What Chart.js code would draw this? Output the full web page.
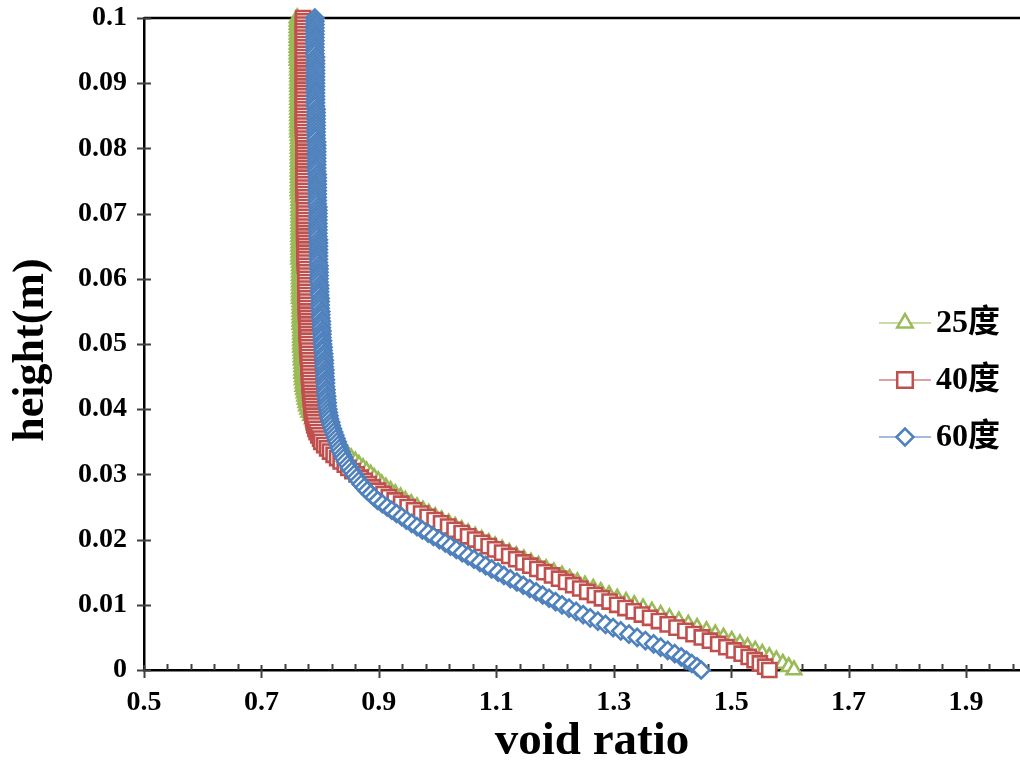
<!DOCTYPE html>
<html>
<head>
<meta charset="utf-8">
<script src="https://cdn.jsdelivr.net/npm/chart.js@4.4.1/dist/chart.umd.min.js"></script>
<style>
    html, body { margin: 0; padding: 0; background: #fff; overflow: hidden; }
    #wrap { width: 1020px; height: 763px; }
    canvas { display: block; }
</style>
</head>
<body>
<div id="wrap"><canvas id="voidChart" width="1020" height="763"></canvas></div>
<script>
// height (m), shared by the three series
const heights = [
    0, 0.0005, 0.001, 0.0015, 0.002, 0.0025, 0.003, 0.0035, 0.004, 0.0045,
    0.005, 0.0055, 0.006, 0.0065, 0.007, 0.0075, 0.008, 0.0085, 0.009, 0.0095,
    0.01, 0.0105, 0.011, 0.0115, 0.012, 0.0125, 0.013, 0.0135, 0.014, 0.0145,
    0.015, 0.0155, 0.016, 0.0165, 0.017, 0.0175, 0.018, 0.0185, 0.019, 0.0195,
    0.02, 0.0205, 0.021, 0.0215, 0.022, 0.0225, 0.023, 0.0235, 0.024, 0.0245,
    0.025, 0.0255, 0.026, 0.0265, 0.027, 0.0275, 0.028, 0.0285, 0.029, 0.0295,
    0.03, 0.0305, 0.031, 0.0315, 0.032, 0.0325, 0.033, 0.0335, 0.034, 0.0345,
    0.035, 0.0355, 0.036, 0.0365, 0.037, 0.0375, 0.038, 0.0385, 0.039, 0.0395,
    0.04, 0.0405, 0.041, 0.0415, 0.042, 0.0425, 0.043, 0.0435, 0.044, 0.0445,
    0.045, 0.0455, 0.046, 0.0465, 0.047, 0.0475, 0.048, 0.0485, 0.049, 0.0495,
    0.05, 0.0505, 0.051, 0.0515, 0.052, 0.0525, 0.053, 0.0535, 0.054, 0.0545,
    0.055, 0.0555, 0.056, 0.0565, 0.057, 0.0575, 0.058, 0.0585, 0.059, 0.0595,
    0.06, 0.0605, 0.061, 0.0615, 0.062, 0.0625, 0.063, 0.0635, 0.064, 0.0645,
    0.065, 0.0655, 0.066, 0.0665, 0.067, 0.0675, 0.068, 0.0685, 0.069, 0.0695,
    0.07, 0.0705, 0.071, 0.0715, 0.072, 0.0725, 0.073, 0.0735, 0.074, 0.0745,
    0.075, 0.0755, 0.076, 0.0765, 0.077, 0.0775, 0.078, 0.0785, 0.079, 0.0795,
    0.08, 0.0805, 0.081, 0.0815, 0.082, 0.0825, 0.083, 0.0835, 0.084, 0.0845,
    0.085, 0.0855, 0.086, 0.0865, 0.087, 0.0875, 0.088, 0.0885, 0.089, 0.0895,
    0.09, 0.0905, 0.091, 0.0915, 0.092, 0.0925, 0.093, 0.0935, 0.094, 0.0945,
    0.095, 0.0955, 0.096, 0.0965, 0.097, 0.0975, 0.098, 0.0985, 0.099, 0.0995,
    0.1
];

// void ratio, 25度
const void25 = [
    1.607, 1.598, 1.588, 1.577, 1.565, 1.553, 1.541, 1.528, 1.515, 1.501,
    1.487, 1.473, 1.458, 1.442, 1.427, 1.411, 1.395, 1.380, 1.365, 1.350,
    1.335, 1.321, 1.306, 1.292, 1.278, 1.265, 1.251, 1.238, 1.225, 1.212,
    1.198, 1.185, 1.172, 1.159, 1.147, 1.134, 1.122, 1.110, 1.098, 1.087,
    1.075, 1.064, 1.052, 1.041, 1.030, 1.019, 1.007, 0.996, 0.985, 0.975,
    0.965, 0.955, 0.945, 0.937, 0.928, 0.920, 0.912, 0.905, 0.899, 0.892,
    0.886, 0.879, 0.873, 0.866, 0.860, 0.853, 0.847, 0.840, 0.834, 0.827,
    0.821, 0.814, 0.808, 0.803, 0.798, 0.794, 0.790, 0.787, 0.784, 0.781,
    0.779, 0.777, 0.776, 0.775, 0.774, 0.773, 0.772, 0.771, 0.771, 0.770,
    0.770, 0.769, 0.769, 0.769, 0.769, 0.768, 0.768, 0.768, 0.768, 0.767,
    0.767, 0.767, 0.767, 0.767, 0.767, 0.767, 0.766, 0.766, 0.766, 0.766,
    0.766, 0.766, 0.766, 0.766, 0.765, 0.765, 0.765, 0.765, 0.765, 0.765,
    0.765, 0.765, 0.765, 0.765, 0.765, 0.765, 0.764, 0.764, 0.764, 0.764,
    0.764, 0.764, 0.764, 0.764, 0.764, 0.764, 0.764, 0.764, 0.764, 0.764,
    0.764, 0.764, 0.764, 0.764, 0.764, 0.764, 0.763, 0.763, 0.763, 0.763,
    0.763, 0.763, 0.763, 0.763, 0.763, 0.763, 0.763, 0.763, 0.763, 0.763,
    0.763, 0.763, 0.763, 0.763, 0.763, 0.762, 0.762, 0.762, 0.762, 0.762,
    0.762, 0.762, 0.762, 0.762, 0.762, 0.762, 0.762, 0.762, 0.762, 0.762,
    0.762, 0.762, 0.762, 0.762, 0.762, 0.762, 0.762, 0.761, 0.761, 0.761,
    0.761, 0.761, 0.761, 0.761, 0.761, 0.761, 0.761, 0.761, 0.761, 0.761,
    0.761
];

// void ratio, 40度
const void40 = [
    1.565, 1.558, 1.549, 1.540, 1.530, 1.518, 1.505, 1.492, 1.478, 1.464,
    1.450, 1.436, 1.422, 1.407, 1.392, 1.377, 1.362, 1.348, 1.334, 1.320,
    1.306, 1.293, 1.280, 1.268, 1.255, 1.243, 1.231, 1.219, 1.207, 1.195,
    1.182, 1.170, 1.158, 1.146, 1.134, 1.122, 1.110, 1.098, 1.087, 1.075,
    1.064, 1.052, 1.041, 1.029, 1.018, 1.006, 0.995, 0.983, 0.972, 0.960,
    0.949, 0.938, 0.927, 0.917, 0.908, 0.899, 0.890, 0.883, 0.876, 0.869,
    0.862, 0.855, 0.848, 0.842, 0.835, 0.829, 0.823, 0.817, 0.812, 0.807,
    0.802, 0.800, 0.797, 0.794, 0.792, 0.790, 0.789, 0.788, 0.787, 0.786,
    0.786, 0.785, 0.785, 0.784, 0.784, 0.783, 0.783, 0.782, 0.782, 0.782,
    0.781, 0.781, 0.781, 0.780, 0.780, 0.780, 0.779, 0.779, 0.779, 0.778,
    0.778, 0.778, 0.778, 0.777, 0.777, 0.777, 0.777, 0.777, 0.777, 0.776,
    0.776, 0.776, 0.776, 0.776, 0.776, 0.775, 0.775, 0.775, 0.775, 0.775,
    0.775, 0.775, 0.775, 0.775, 0.774, 0.774, 0.774, 0.774, 0.774, 0.774,
    0.774, 0.774, 0.773, 0.773, 0.773, 0.773, 0.773, 0.773, 0.773, 0.773,
    0.773, 0.773, 0.773, 0.773, 0.773, 0.773, 0.772, 0.772, 0.772, 0.772,
    0.772, 0.772, 0.772, 0.772, 0.772, 0.772, 0.772, 0.772, 0.772, 0.772,
    0.772, 0.772, 0.772, 0.772, 0.772, 0.771, 0.771, 0.771, 0.771, 0.771,
    0.771, 0.771, 0.771, 0.771, 0.771, 0.771, 0.771, 0.771, 0.771, 0.771,
    0.771, 0.771, 0.771, 0.771, 0.771, 0.771, 0.771, 0.771, 0.771, 0.771,
    0.771, 0.771, 0.771, 0.771, 0.771, 0.771, 0.771, 0.771, 0.771, 0.771,
    0.771
];

// void ratio, 60度
const void60 = [
    1.449, 1.442, 1.433, 1.424, 1.415, 1.404, 1.392, 1.380, 1.368, 1.354,
    1.340, 1.326, 1.312, 1.299, 1.286, 1.273, 1.260, 1.248, 1.236, 1.224,
    1.212, 1.201, 1.190, 1.179, 1.168, 1.157, 1.146, 1.135, 1.124, 1.113,
    1.103, 1.092, 1.082, 1.072, 1.062, 1.052, 1.042, 1.032, 1.022, 1.013,
    1.003, 0.993, 0.984, 0.974, 0.965, 0.956, 0.947, 0.939, 0.930, 0.922,
    0.914, 0.906, 0.898, 0.892, 0.886, 0.880, 0.875, 0.870, 0.866, 0.862,
    0.858, 0.854, 0.850, 0.847, 0.843, 0.840, 0.838, 0.835, 0.833, 0.831,
    0.829, 0.827, 0.825, 0.823, 0.821, 0.819, 0.818, 0.816, 0.815, 0.814,
    0.813, 0.812, 0.812, 0.811, 0.811, 0.810, 0.810, 0.809, 0.809, 0.809,
    0.808, 0.808, 0.808, 0.807, 0.807, 0.807, 0.806, 0.806, 0.805, 0.805,
    0.804, 0.804, 0.803, 0.803, 0.803, 0.802, 0.802, 0.802, 0.801, 0.801,
    0.801, 0.800, 0.800, 0.800, 0.800, 0.799, 0.799, 0.799, 0.799, 0.798,
    0.798, 0.798, 0.798, 0.798, 0.798, 0.797, 0.797, 0.797, 0.797, 0.797,
    0.797, 0.797, 0.797, 0.796, 0.796, 0.796, 0.796, 0.796, 0.796, 0.796,
    0.796, 0.796, 0.796, 0.795, 0.795, 0.795, 0.795, 0.795, 0.795, 0.795,
    0.795, 0.795, 0.795, 0.794, 0.794, 0.794, 0.794, 0.794, 0.794, 0.794,
    0.794, 0.794, 0.794, 0.793, 0.793, 0.793, 0.793, 0.793, 0.793, 0.793,
    0.793, 0.793, 0.793, 0.792, 0.792, 0.792, 0.792, 0.792, 0.792, 0.792,
    0.792, 0.792, 0.792, 0.792, 0.792, 0.792, 0.792, 0.792, 0.792, 0.791,
    0.791, 0.791, 0.791, 0.791, 0.791, 0.791, 0.791, 0.791, 0.791, 0.791,
    0.791
];

const seriesLabels = ['25度', '40度', '60度'];
const xTickValues = [0.5, 0.7, 0.9, 1.1, 1.3, 1.5, 1.7, 1.9];
const yTickValues = [0, 0.01, 0.02, 0.03, 0.04, 0.05, 0.06, 0.07, 0.08, 0.09, 0.1];
const xTitle = 'void ratio';
const yTitle = 'height(m)';

const SERIF = '"Liberation Serif", "Times New Roman", "Noto Sans CJK SC", serif';

// points listed top to bottom, so the lowest markers end up on top
function toPoints(values) {
    return heights.map((h, i) => ({ x: values[i], y: h })).reverse();
}

function makeSeries(label, values, color, style, radius, order) {
    return {
        label: label,
        data: toPoints(values),
        showLine: true,
        borderColor: color,
        borderWidth: 1,
        pointStyle: style,
        pointRadius: radius,
        pointBorderWidth: 2.6,
        pointBorderColor: color,
        pointBackgroundColor: '#ffffff',
        pointHoverRadius: radius,
        clip: false,
        order: order
    };
}

function noPadding(axis) {
    axis.paddingLeft = 0;
    axis.paddingRight = 0;
    axis.paddingTop = 0;
    axis.paddingBottom = 0;
}

const frame = {
    id: 'frame',
    beforeDatasetsDraw(chart) {
        const { ctx, chartArea: area, scales: { x, y } } = chart;
        ctx.save();
        ctx.strokeStyle = '#000';
        ctx.lineWidth = 2.5;
        ctx.beginPath();
        ctx.moveTo(area.left, area.top);
        ctx.lineTo(area.right, area.top);
        ctx.stroke();

        ctx.strokeStyle = '#404040';
        ctx.lineWidth = 2;
        ctx.beginPath();
        xTickValues.forEach((v) => {
            const px = Math.round(x.getPixelForValue(v)) + 0.5;
            ctx.moveTo(px, area.bottom - 5);
            ctx.lineTo(px, area.bottom + 8);
        });
        for (let k = 1; 0.5 + k * 0.04 < x.max; k++) {
            if (k % 5 === 0) continue;
            const px = Math.round(x.getPixelForValue(0.5 + k * 0.04)) + 0.5;
            ctx.moveTo(px, area.bottom - 6);
            ctx.lineTo(px, area.bottom);
        }
        yTickValues.forEach((v) => {
            const py = Math.round(y.getPixelForValue(v)) + 0.5;
            ctx.moveTo(area.left - 7, py);
            ctx.lineTo(area.left + 7, py);
        });
        ctx.stroke();

        // axis titles
        ctx.fillStyle = '#000';
        ctx.textAlign = 'center';
        ctx.textBaseline = 'middle';
        ctx.font = 'bold 47px ' + SERIF;
        ctx.fillText(xTitle, 592, 742);
        ctx.translate(32, 350);
        ctx.rotate(-Math.PI / 2);
        ctx.font = 'bold 44px ' + SERIF;
        ctx.fillText(yTitle, 0, 0);
        ctx.restore();
    }
};

const sideLegend = {
    id: 'sideLegend',
    afterDraw(chart) {
        const { ctx } = chart;
        const rows = [323, 380, 437];
        const sizes = [9, 11, 8.5];
        ctx.save();
        chart.data.datasets.forEach((ds, i) => {
            const yy = rows[i];
            ctx.strokeStyle = ds.borderColor;
            ctx.globalAlpha = 0.7;
            ctx.lineWidth = 1.5;
            ctx.beginPath();
            ctx.moveTo(879, yy);
            ctx.lineTo(931, yy);
            ctx.stroke();
            ctx.globalAlpha = 1;
            ctx.fillStyle = '#ffffff';
            ctx.strokeStyle = ds.borderColor;
            ctx.lineWidth = 2.5;
            Chart.helpers.drawPoint(ctx, {
                pointStyle: ds.pointStyle,
                radius: sizes[i],
                borderWidth: 2.5,
                rotation: 0
            }, 905, yy);
            ctx.fillStyle = '#000';
            ctx.font = 'bold 32px ' + SERIF;
            ctx.textAlign = 'left';
            ctx.textBaseline = 'middle';
            ctx.fillText(ds.label, 936, yy + 1);
        });
        ctx.restore();
    }
};

Chart.defaults.font.family = SERIF;
Chart.defaults.color = '#000';

new Chart(document.getElementById('voidChart'), {
    type: 'scatter',
    data: {
        datasets: [
            makeSeries(seriesLabels[0], void25, '#9BBB59', 'triangle', 8.5, 2),
            makeSeries(seriesLabels[1], void40, '#C0504D', 'rect', 10, 1),
            makeSeries(seriesLabels[2], void60, '#4F81BD', 'rectRot', 8.5, 0)
        ]
    },
    options: {
        responsive: false,
        animation: false,
        events: [],
        layout: {
            autoPadding: false,
            padding: { left: 0, top: 18, right: 0, bottom: 0 }
        },
        plugins: {
            legend: { display: false },
            tooltip: { enabled: false }
        },
        scales: {
            x: {
                type: 'linear',
                min: 0.5,
                max: 1.992,
                afterBuildTicks: (axis) => { axis.ticks = xTickValues.map((v) => ({ value: v })); },
                afterFit: (axis) => { axis.height = 93; noPadding(axis); },
                grid: { display: false, drawTicks: false },
                border: { color: '#000', width: 2.5 },
                ticks: {
                    padding: 16,
                    font: { size: 28, weight: 'bold' },
                    callback: (v) => Number(v.toFixed(2)).toString()
                }
            },
            y: {
                type: 'linear',
                min: 0,
                max: 0.1,
                afterBuildTicks: (axis) => { axis.ticks = yTickValues.map((v) => ({ value: v })); },
                afterFit: (axis) => { axis.width = 144; noPadding(axis); },
                grid: { display: false, drawTicks: false },
                border: { color: '#000', width: 2.5 },
                ticks: {
                    padding: 17,
                    font: { size: 28, weight: 'bold' },
                    callback: (v) => Number(v.toFixed(2)).toString()
                }
            }
        }
    },
    plugins: [frame, sideLegend]
});
</script>
</body>
</html>
